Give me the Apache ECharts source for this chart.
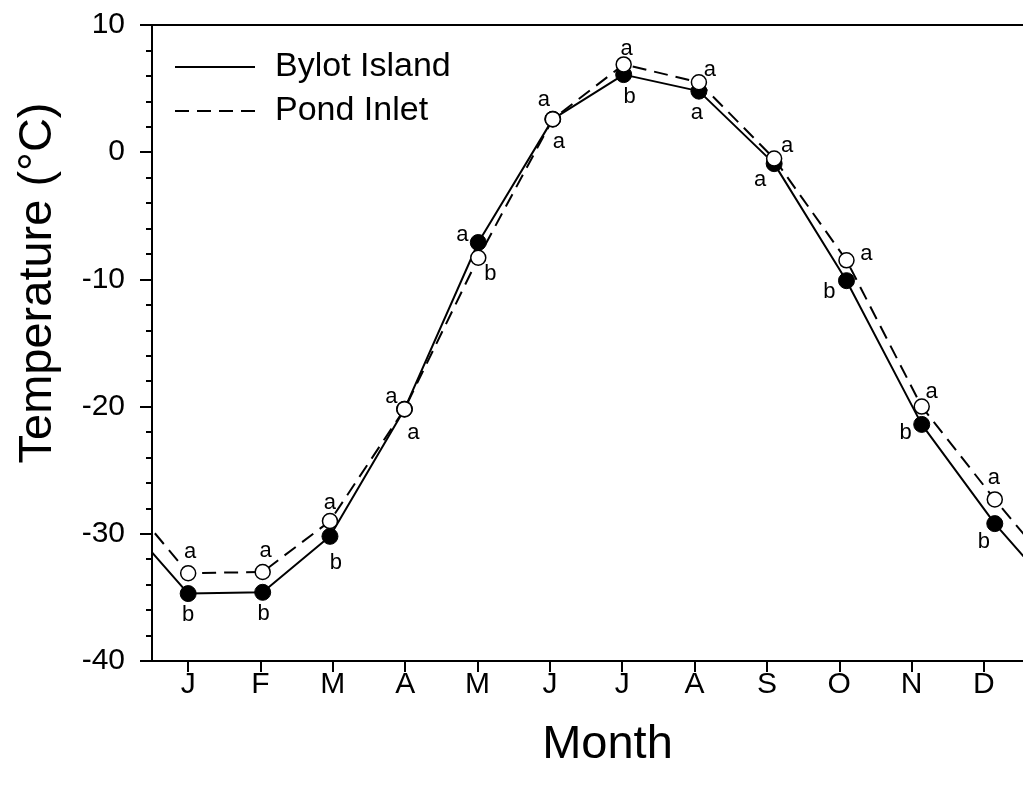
<!DOCTYPE html>
<html>
<head>
<meta charset="utf-8">
<script src="https://cdn.jsdelivr.net/npm/echarts@6/dist/echarts.min.js"></script>
<style>
  html, body { margin: 0; padding: 0; background: #fff; }
  #main { width: 1023px; height: 789px; }
</style>
</head>
<body>
<div id="main"></div>
<script>
// month letters and where each month's tick sits
var monthLabels = ['J', 'F', 'M', 'A', 'M', 'J', 'J', 'A', 'S', 'O', 'N', 'D'];
var monthTicks = [1, 2, 3, 4, 5, 6, 7, 8, 9, 10, 11, 12];
// x position of each monthly mean (mid-month)
var monthPos = [1.0, 2.03, 2.96, 3.99, 5.01, 6.04, 7.02, 8.06, 9.10, 10.10, 11.14, 12.15];

// mean monthly temperature (°C)
var bylotTemp = [-34.7, -34.6, -30.2, -20.2, -7.1, 2.6, 6.1, 4.8, -0.9, -10.1, -21.4, -29.2];
var pondTemp = [-33.1, -33.0, -29.0, -20.2, -8.3, 2.6, 6.9, 5.5, -0.5, -8.5, -20.0, -27.3];

// significance letters
var bylotSig = ['b', 'b', 'b', 'a', 'a', 'a', 'b', 'a', 'a', 'b', 'b', 'b'];
var pondSig = ['a', 'a', 'a', 'a', 'b', 'a', 'a', 'a', 'a', 'a', 'a', 'a'];

// where the letters sit around each marker (px)
var bylotLabelOffset = [[0, 21], [1, 22], [6, 27], [9, 24], [-16, -8], [6, 23], [6, 22], [-2, 22], [-14, 16], [-17, 11], [-16, 9], [-11, 18]];
var pondLabelOffset = [[2, -21], [3, -21], [0, -18], [-13, -12], [12, 16], [-9, -19], [3, -15], [11, -12], [13, -13], [20, -6], [10, -15], [-1, -22]];

var font = '"Liberation Sans", Arial, sans-serif';

// year wraps around: previous Dec before J, next Jan after D
function buildData(temps, sig, offs) {
    var out = [];
    out.push({ value: [monthPos[11] - 12, temps[11]], symbol: 'none', label: { show: false } });
    for (var i = 0; i < temps.length; i++) {
        out.push({
            value: [monthPos[i], temps[i]],
            label: {
                show: true,
                formatter: sig[i],
                position: 'inside',
                offset: offs[i]
            }
        });
    }
    out.push({ value: [monthPos[0] + 12, temps[0]], symbol: 'none', label: { show: false } });
    return out;
}

var chart = echarts.init(document.getElementById('main'));

chart.setOption({
    animation: false,
    backgroundColor: '#fff',
    textStyle: { fontFamily: font },
    grid: { left: 152, right: 0, top: 25, bottom: 128, containLabel: false },
    legend: {
        orient: 'vertical',
        left: 169,
        top: 45,
        itemWidth: 80,
        itemHeight: 14,
        itemGap: 10,
        itemStyle: { opacity: 0 },
        textStyle: { fontSize: 34, color: '#000', fontFamily: font, padding: [0, 0, 0, 15], lineHeight: 32 },
        data: ['Bylot Island', 'Pond Inlet']
    },
    xAxis: [{
        type: 'value',
        min: 0.5,
        max: 12.54,
        name: 'Month',
        nameLocation: 'middle',
        nameGap: 61,
        nameTextStyle: { fontSize: 47, color: '#000', fontFamily: font, padding: [0, 0, 0, 40] },
        axisLine: { show: true, onZero: false, lineStyle: { color: '#000', width: 2 } },
        axisTick: { show: true, customValues: monthTicks, length: 11, lineStyle: { color: '#000', width: 2 } },
        axisLabel: {
            customValues: monthTicks,
            margin: 9,
            fontSize: 30,
            color: '#000',
            fontFamily: font,
            formatter: function (v) { return monthLabels[Math.round(v) - 1]; }
        },
        splitLine: { show: false }
    }, {
        type: 'value',
        position: 'top',
        min: 0.5,
        max: 12.54,
        axisLine: { show: true, onZero: false, lineStyle: { color: '#000', width: 2 } },
        axisTick: { show: false },
        axisLabel: { show: false },
        splitLine: { show: false }
    }],
    yAxis: {
        type: 'value',
        min: -40,
        max: 10,
        interval: 10,
        name: 'Temperature (°C)',
        nameLocation: 'middle',
        nameGap: 90,
        nameTextStyle: { fontSize: 47, color: '#000', fontFamily: font, padding: [0, 0, 0, 120] },
        axisLine: { show: true, onZero: false, lineStyle: { color: '#000', width: 2 } },
        axisTick: { show: true, length: 12, lineStyle: { color: '#000', width: 2 } },
        minorTick: { show: true, splitNumber: 5, length: 6, lineStyle: { color: '#000', width: 2 } },
        axisLabel: { margin: 27, fontSize: 30, color: '#000', fontFamily: font },
        splitLine: { show: false },
        minorSplitLine: { show: false }
    },
    series: [{
        name: 'Bylot Island',
        type: 'line',
        z: 2,
        symbol: 'circle',
        symbolSize: 16,
        itemStyle: { color: '#000', borderColor: '#000', borderWidth: 1 },
        lineStyle: { color: '#000', width: 2, type: 'solid' },
        label: { fontSize: 22, color: '#000', fontFamily: font },
        data: buildData(bylotTemp, bylotSig, bylotLabelOffset)
    }, {
        name: 'Pond Inlet',
        type: 'line',
        z: 3,
        symbol: 'circle',
        symbolSize: 15,
        itemStyle: { color: '#fff', borderColor: '#000', borderWidth: 1.5 },
        lineStyle: { color: '#000', width: 2, type: [14, 8] },
        label: { fontSize: 22, color: '#000', fontFamily: font },
        data: buildData(pondTemp, pondSig, pondLabelOffset)
    }]
});
</script>
</body>
</html>
